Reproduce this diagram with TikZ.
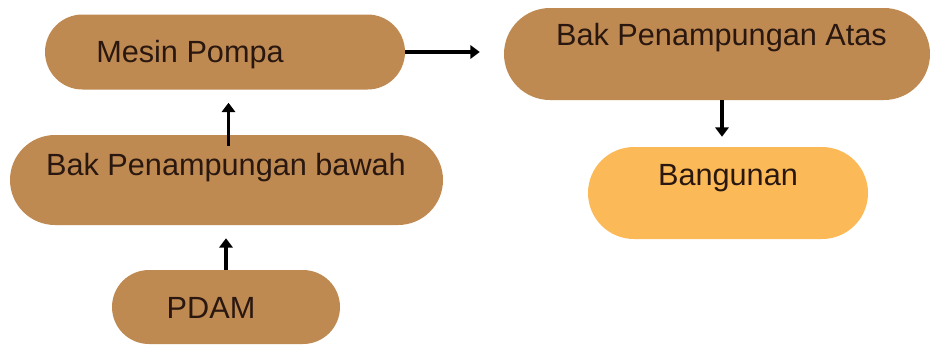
\documentclass[tikz,border=0pt]{standalone}
\usepackage{fontspec}
\setmainfont{Liberation Sans}
\usetikzlibrary{shapes.misc,arrows.meta}
\definecolor{boxbrown}{HTML}{BF8A52}
\definecolor{boxgold}{HTML}{FBB957}
\definecolor{txt}{HTML}{2A1810}
\tikzset{
  pill/.style={rounded rectangle, fill=boxbrown, draw=none, inner sep=0pt},
  lbl/.style={anchor=base, inner sep=0pt, text=txt, font=\fontsize{23pt}{27pt}\selectfont},
  arr/.style={line width=2.8pt, -{Triangle[length=7pt,width=10pt]}, black}
}
\begin{document}
\begin{tikzpicture}[x=0.75pt,y=-0.75pt]
\useasboundingbox (0,0) rectangle (930,344);
% boxes
\node[pill, minimum width=360*0.75pt, minimum height=75*0.75pt] (mesin) at (225,52) {};
\node[pill, minimum width=433*0.75pt, minimum height=90*0.75pt] (bawah) at (226.5,180) {};
\node[pill, minimum width=228*0.75pt, minimum height=74*0.75pt] (pdam) at (226,307) {};
\node[pill, minimum width=426*0.75pt, minimum height=92*0.75pt] (atas) at (717,54) {};
\node[pill, fill=boxgold, minimum width=280*0.75pt, minimum height=92*0.75pt] (bangunan) at (728,193) {};
% labels
\node[lbl] (mesinT) at (190,62) {Mesin Pompa};
\node[lbl] (bawahT) at (226,175) {Bak Penampungan bawah};
\node[lbl] (pdamT) at (211,318) {PDAM};
\node[lbl] (atasT) at (721.5,45) {Bak Penampungan Atas};
\node[lbl] (bangunanT) at (728,185) {Bangunan};
% connectors
\draw[arr, shorten >=13*0.75pt] (pdam.north) -- (pdam.north |- bawah.south);
\draw[arr, shorten <=-11*0.75pt, shorten >=13*0.75pt] ([xshift=2*0.75pt]bawah.north) -- ([xshift=2*0.75pt]bawah.north |- mesin.south);
\draw[arr, shorten >=24*0.75pt] (mesin.east) -- (mesin.east -| atas.west);
\draw[arr, shorten >=10*0.75pt] ([xshift=5*0.75pt]atas.south) -- ([xshift=5*0.75pt]atas.south |- bangunan.north);
\end{tikzpicture}
\end{document}
